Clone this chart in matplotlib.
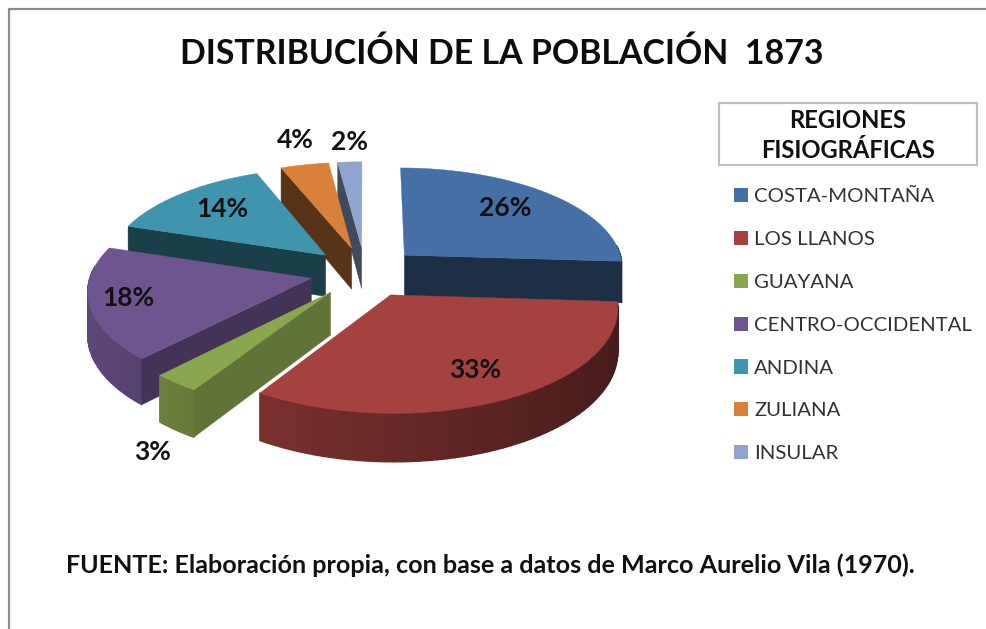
import matplotlib
matplotlib.use("Agg")
import matplotlib.pyplot as plt
import numpy as np
from matplotlib.lines import Line2D
from matplotlib.patches import Patch, Polygon, Rectangle

plt.rcParams["font.family"] = ["Lato", "DejaVu Sans"]

REGIONS = ["COSTA-MONTAÑA", "LOS LLANOS", "GUAYANA", "CENTRO-OCCIDENTAL", "ANDINA", "ZULIANA", "INSULAR"]
SHARES = [26, 33, 3, 18, 14, 4, 2]
COLORS = ["#4470A5", "#A5423F", "#8AA64E", "#6F5590", "#3F95AE", "#D9813B", "#8FA5CF"]
SIDE_SHADE = [0.42, 0.42, 0.70, 0.60, 0.42, 0.40, 0.45]
DRAW_ORDER = [6, 5, 4, 0, 3, 2, 1]
LABEL_XY = [(505, 208), (475, 370), (153, 452), (128, 298), (222, 209), (295, 140), (350, 142)]

# pie projection, in pixels
CX, CY = 365, 272
RX, RY = 220, 100.2
PERSPECTIVE = 0.109
DEPTH = 42
EXPLODE = 0.25


def project(u, v):
    w = 1 - PERSPECTIVE * v
    return CX + RX * u / w, CY + RY * v / w


def drop(u, v):
    return DEPTH / (1 - PERSPECTIVE * v)


def shade(color, factor):
    return tuple(c * factor for c in matplotlib.colors.to_rgb(color))


def draw_slice(ax, start, end, color, side):
    mid = np.radians((start + end) / 2)
    off_u, off_v = EXPLODE * np.sin(mid), -EXPLODE * np.cos(mid)
    angles = np.linspace(start, end, 60)
    us = off_u + np.sin(np.radians(angles))
    vs = off_v - np.cos(np.radians(angles))
    apex = project(off_u, off_v)
    apex_drop = drop(off_u, off_v)

    # outer rim, only the part facing the viewer, darker to the right
    for i in range(len(us) - 1):
        if np.cos(np.radians(angles[i])) > 0.12:
            continue
        x0, y0 = project(us[i], vs[i])
        x1, y1 = project(us[i + 1], vs[i + 1])
        face = [(x0, y0), (x1, y1), (x1, y1 + drop(us[i + 1], vs[i + 1])), (x0, y0 + drop(us[i], vs[i]))]
        rim = shade(color, 0.63 - 0.21 * (us[i] - off_u))
        ax.add_patch(Polygon(face, closed=True, facecolor=rim, edgecolor=rim, linewidth=1.0))

    # cut faces, only those turned towards the viewer
    visible = []
    if np.sin(np.radians(start)) < 0:
        visible.append((us[0], vs[0]))
    if np.sin(np.radians(end)) > 0:
        visible.append((us[-1], vs[-1]))
    for u, v in visible:
        x, y = project(u, v)
        face = [apex, (x, y), (x, y + drop(u, v)), (apex[0], apex[1] + apex_drop)]
        ax.add_patch(Polygon(face, closed=True, facecolor=shade(color, side), edgecolor=shade(color, side), linewidth=0.3))

    top = [apex] + [project(u, v) for u, v in zip(us, vs)]
    ax.add_patch(Polygon(top, closed=True, facecolor=color, edgecolor=color, linewidth=0.3))


fig = plt.figure(figsize=(9.86, 6.29), dpi=100)
ax = fig.add_axes([0, 0, 1, 1])
ax.set_xlim(0, 986)
ax.set_ylim(629, 0)
ax.axis("off")

# chart frame, only top and left show
ax.add_line(Line2D([8.5, 8.5, 986], [629, 9, 9], color="#8c8c8c", linewidth=1.6))

edges = np.cumsum([0] + SHARES) / sum(SHARES) * 360
for i in DRAW_ORDER:
    draw_slice(ax, edges[i], edges[i + 1], COLORS[i], SIDE_SHADE[i])

for share, (x, y) in zip(SHARES, LABEL_XY):
    ax.text(x, y, f"{share}%", ha="center", va="center", fontsize=19, fontweight="bold", color="#111111")

ax.text(502, 54, "DISTRIBUCIÓN DE LA POBLACIÓN  1873", ha="center", va="center", fontsize=24.4, fontweight="bold", color="#0d0d0d")

ax.add_patch(Rectangle((719, 103), 258, 62, facecolor="white", edgecolor="#c0c0c0", linewidth=1.6))
ax.text(848, 120, "REGIONES", ha="center", va="center", fontsize=17.1, fontweight="bold", color="#111111")
ax.text(848, 151, "FISIOGRÁFICAS", ha="center", va="center", fontsize=17.1, fontweight="bold", color="#111111")

handles = [Patch(facecolor=c, edgecolor="none") for c in COLORS]
ax.legend(
    handles,
    REGIONS,
    loc="upper left",
    bbox_to_anchor=(734 / 986, 1 - 188 / 629),
    frameon=False,
    fontsize=14.7,
    labelcolor="#333333",
    handlelength=0.69,
    handleheight=0.69,
    handletextpad=0.3,
    labelspacing=1.255,
    borderpad=0,
    borderaxespad=0,
)

ax.text(66, 565, "FUENTE: Elaboración propia, con base a datos de Marco Aurelio Vila (1970).", ha="left", va="center", fontsize=18.1, fontweight="bold", color="#111111")

fig.savefig("out.png", dpi=100)
